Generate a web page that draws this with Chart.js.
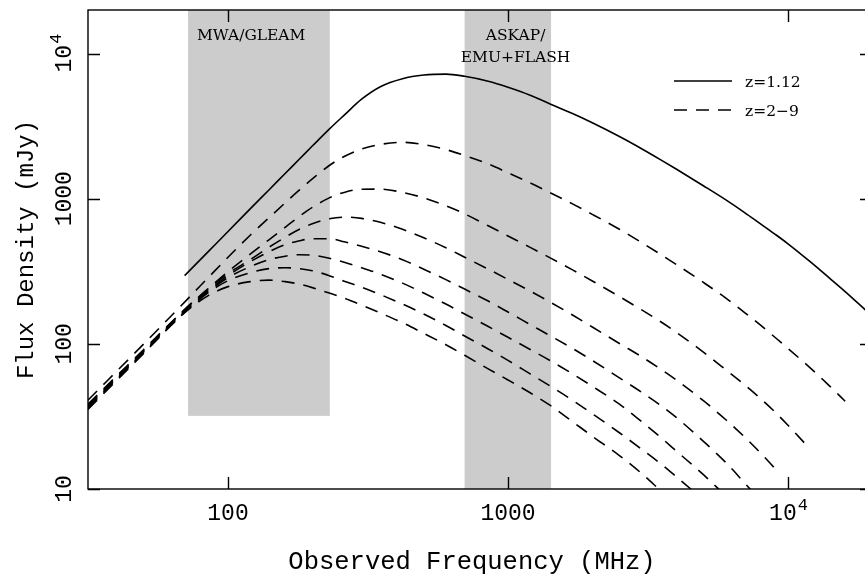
<!DOCTYPE html>
<html>
<head>
<meta charset="utf-8">
<script src="https://cdn.jsdelivr.net/npm/chart.js@4"></script>
<style>
html, body { margin: 0; padding: 0; background: #fff; overflow: hidden; }
#wrap { position: absolute; left: 0; top: 0; width: 900px; height: 577px; }
</style>
</head>
<body>
<div id="wrap"><canvas id="myChart" width="900" height="577"></canvas></div>
<script>
// observed frequency grid (MHz)
var freqs = [31.6, 50, 70, 85, 100, 120, 140, 160, 180, 200, 230, 260, 300, 350, 420, 500, 600, 700, 850, 1000,
             1200, 1420, 1700, 2000, 2500, 3000, 3500, 4000, 5000, 6000, 7000, 8000, 9000, 10000, 12000, 14000, 16000, 19000];

// flux density (mJy), null = no point
var fluxZ112 = [null, null, 295, 432, 594, 851, 1149, 1492, 1876, 2305, 3016, 3762, 4846, 5906, 6703, 7108, 7220, 6970, 6444, 5858,
                5164, 4478, 3858, 3332, 2679, 2209, 1859, 1594, 1224, 981, 802.6, 668.2, 568.6, 489, 368.1, 285.8, 229, 169.6];
var fluxZ2 = [40.9, 99.8, 194, 285.8, 395.2, 559.7, 738.2, 935.9, 1149, 1368, 1694, 1952, 2198, 2367, 2447, 2360, 2181, 1983, 1734, 1508,
              1284, 1096, 921.2, 780.2, 615.5, 498.6, 414.5, 351.1, 264.1, 206.7, 164.3, 133.8, 110.6, 93, 68.3, 51.8, 40.2, null];
var fluxZ3 = [38.4, 91.5, 172.3, 240.3, 314.3, 414.5, 521.3, 635.2, 755.8, 871.5, 1013, 1105, 1162, 1164, 1105, 1013, 892.4, 786.4, 650.4, 553.5,
              462.2, 389.6, 323.3, 271.3, 211.7, 171.5, 142.5, 119.8, 87.3, 66.2, 52.2, 41.8, 33.8, 27.5, 18.8, null, null, null];
var fluxZ4 = [37.8, 90.1, 172.3, 238.4, 304.5, 380, 462.9, 542.3, 615.5, 671.2, 726.7, 746.3, 732.3, 687.6, 615.5, 538.1, 459.3, 395.2, 327, 277.8,
              230.8, 193.1, 157.9, 130.7, 100.6, 81.5, 67.2, 56.2, 40.4, 30, 22.8, 17.6, 13.8, null, null, null, null, null];
var fluxZ5 = [37.2, 88.7, 169.6, 232.7, 295, 368.1, 431, 481.6, 513.1, 529.6, 529.6, 505, 470.4, 431, 380, 327, 276.9, 238.4, 197.1, 165.6,
              135.9, 113.3, 93, 76.9, 58.3, 46.4, 37.8, 31, 21.2, 15.2, 11, 8.27, null, null, null, null, null, null];
var fluxZ6 = [36.6, 88, 166.9, 229, 285.8, 340.1, 380, 401.6, 411.1, 407.9, 389, 365.2, 334.8, 302.1, 262, 223.7, 187.9, 160.5, 131.7, 111,
              91.5, 76.3, 62.1, 51, 38.4, 29.1, 22.8, 18.2, 12.5, 8.95, null, null, null, null, null, null, null, null];
var fluxZ7 = [36, 87.3, 164.3, 225.4, 272.5, 309.3, 329.6, 334.8, 329.6, 319.3, 295, 270.4, 245.9, 218.5, 187.9, 160.5, 133.8, 113.3, 92.2, 76.9,
              62.1, 51, 40.9, 33, 24.4, 18.8, 15, 12.1, 8.4, null, null, null, null, null, null, null, null, null];
var fluxZ8 = [35.4, 85.9, 164.3, 215, 247.9, 268.3, 274.7, 268.3, 257.9, 244, 223.7, 206.6, 184.7, 163, 139.8, 118.1, 98.6, 83.4, 67.2, 56.4,
              46, 37.5, 29.1, 23.1, 17, 12.8, 9.77, null, null, null, null, null, null, null, null, null, null, null];

// survey bands (MHz) and lower edge of the shading (mJy)
var bandNames = [['MWA/GLEAM'], ['ASKAP/', 'EMU+FLASH']];
var bandLo = [72, 700];
var bandHi = [231, 1425];
var bandFloor = [31.9, 10];
var bandLabelFreq = [121, 1064];

// axes
var xMin = Math.pow(10, 1.5), xMax = Math.pow(10, 4.3);
var yMin = 10, yMax = Math.pow(10, 4.3);
var xTicks = [100, 1000, 10000];
var xTickBase = ['100', '1000', '10'];
var xTickExp = ['', '', '4'];
var yTicks = [10, 100, 1000, 10000];
var yTickBase = ['10', '100', '1000', '10'];
var yTickExp = ['', '', '', '4'];

var MONO = '"Liberation Mono", monospace';
var SERIF = '"DejaVu Serif", serif';

function pts(vals) {
  var out = [];
  for (var i = 0; i < freqs.length; i++) {
    if (vals[i] != null) out.push({ x: freqs[i], y: vals[i] });
  }
  return out;
}

function curve(vals, dashed) {
  return {
    data: pts(vals),
    borderColor: '#000',
    borderWidth: 1.6,
    borderDash: dashed ? [13, 9] : [],
    pointRadius: 0,
    fill: false
  };
}

// draws "base^exp" centred on x, baseline at y
function powText(ctx, base, exp, x, y, size) {
  ctx.font = size + 'px ' + MONO;
  var wb = ctx.measureText(base).width;
  ctx.font = Math.round(size * 0.72) + 'px ' + MONO;
  var we = exp ? ctx.measureText(exp).width : 0;
  var left = x - (wb + we) / 2;
  ctx.textAlign = 'left';
  ctx.textBaseline = 'alphabetic';
  ctx.font = size + 'px ' + MONO;
  ctx.fillText(base, left, y);
  if (exp) {
    ctx.font = Math.round(size * 0.72) + 'px ' + MONO;
    ctx.fillText(exp, left + wb + 1, y - size * 0.45);
  }
}

var framePlugin = {
  id: 'frame',
  beforeDatasetsDraw: function (chart) {
    var ctx = chart.ctx, xs = chart.scales.x, ys = chart.scales.y, a = chart.chartArea;
    ctx.save();
    ctx.fillStyle = '#cccccc';
    for (var i = 0; i < bandLo.length; i++) {
      var x0 = xs.getPixelForValue(bandLo[i]);
      var x1 = xs.getPixelForValue(bandHi[i]);
      var yb = ys.getPixelForValue(bandFloor[i]);
      ctx.fillRect(x0, a.top, x1 - x0, yb - a.top);
    }
    ctx.fillStyle = '#000';
    ctx.font = '15.5px ' + SERIF;
    ctx.textAlign = 'center';
    ctx.textBaseline = 'alphabetic';
    for (var j = 0; j < bandNames.length; j++) {
      var cx = xs.getPixelForValue(bandLabelFreq[j]);
      for (var k = 0; k < bandNames[j].length; k++) {
        ctx.fillText(bandNames[j][k], cx, a.top + 30 + k * 22);
      }
    }
    ctx.restore();
  },
  afterDraw: function (chart) {
    var ctx = chart.ctx, xs = chart.scales.x, ys = chart.scales.y, a = chart.chartArea;
    var tick = 12;
    ctx.save();
    ctx.strokeStyle = '#000';
    ctx.lineWidth = 1.4;
    ctx.strokeRect(a.left, a.top, a.right - a.left, a.bottom - a.top);
    ctx.beginPath();
    xTicks.forEach(function (v) {
      var px = Math.round(xs.getPixelForValue(v)) + 0.5;
      ctx.moveTo(px, a.bottom); ctx.lineTo(px, a.bottom - tick);
      ctx.moveTo(px, a.top); ctx.lineTo(px, a.top + tick);
    });
    yTicks.forEach(function (v) {
      var py = Math.round(ys.getPixelForValue(v)) + 0.5;
      ctx.moveTo(a.left, py); ctx.lineTo(a.left + tick, py);
      ctx.moveTo(a.right, py); ctx.lineTo(a.right - tick, py);
    });
    ctx.stroke();

    ctx.fillStyle = '#000';
    // x tick labels
    xTicks.forEach(function (v, i) {
      powText(ctx, xTickBase[i], xTickExp[i], xs.getPixelForValue(v), a.bottom + 31, 23);
    });
    // y tick labels (rotated)
    yTicks.forEach(function (v, i) {
      ctx.save();
      ctx.translate(a.left - 17, ys.getPixelForValue(v));
      ctx.rotate(-Math.PI / 2);
      powText(ctx, yTickBase[i], yTickExp[i], 0, 0, 23);
      ctx.restore();
    });

    // axis titles
    ctx.textAlign = 'center';
    ctx.textBaseline = 'alphabetic';
    ctx.font = '25.5px ' + MONO;
    ctx.fillText('Observed Frequency (MHz)', 472, 569);
    ctx.save();
    ctx.translate(33, (a.top + a.bottom) / 2);
    ctx.rotate(-Math.PI / 2);
    ctx.font = '24px ' + MONO;
    ctx.fillText('Flux Density (mJy)', 0, 0);
    ctx.restore();

    // legend
    ctx.lineWidth = 1.6;
    ctx.beginPath();
    ctx.moveTo(674, 81); ctx.lineTo(732, 81);
    ctx.stroke();
    ctx.setLineDash([13, 9]);
    ctx.beginPath();
    ctx.moveTo(674, 110); ctx.lineTo(732, 110);
    ctx.stroke();
    ctx.setLineDash([]);
    ctx.font = '15.5px ' + SERIF;
    ctx.textAlign = 'left';
    ctx.fillText('z=1.12', 745, 87);
    ctx.fillText('z=2\u22129', 745, 116);
    ctx.restore();
  }
};

var ctx = document.getElementById('myChart');
var myChart = new Chart(ctx, {
  type: 'line',
  data: {
    datasets: [
      curve(fluxZ112, false),
      curve(fluxZ2, true),
      curve(fluxZ3, true),
      curve(fluxZ4, true),
      curve(fluxZ5, true),
      curve(fluxZ6, true),
      curve(fluxZ7, true),
      curve(fluxZ8, true)
    ]
  },
  options: {
    responsive: false,
    animation: false,
    layout: { padding: { left: 88, top: 10, right: 28, bottom: 88 } },
    elements: { line: { cubicInterpolationMode: 'monotone' } },
    scales: {
      x: { type: 'logarithmic', min: xMin, max: xMax, display: false },
      y: { type: 'logarithmic', min: yMin, max: yMax, display: false }
    },
    plugins: {
      legend: { display: false },
      tooltip: { enabled: false }
    }
  },
  plugins: [framePlugin]
});
</script>
</body>
</html>
